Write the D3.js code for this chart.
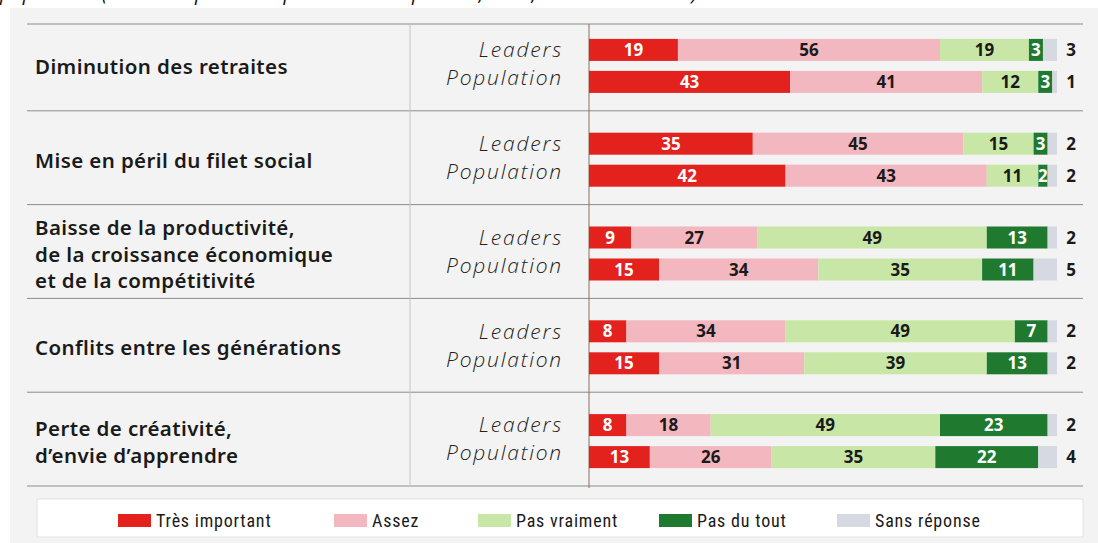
<!DOCTYPE html>
<html><head><meta charset="utf-8">
<script src="https://cdn.jsdelivr.net/npm/d3@7"></script>
<style>
html,body{margin:0;padding:0;background:#fff;}
svg{display:block;}
</style></head>
<body>
<svg id="chart" width="1098" height="543"></svg>
<script>
// ---- data ----
const categories = [
  ["Diminution des retraites"],
  ["Mise en péril du filet social"],
  ["Baisse de la productivité,", "de la croissance économique", "et de la compétitivité"],
  ["Conflits entre les générations"],
  ["Perte de créativité,", "d’envie d’apprendre"]
];
const groups = ["Leaders", "Population"];
const responses = ["Très important", "Assez", "Pas vraiment", "Pas du tout", "Sans réponse"];
const leadersValues = [
  [19, 56, 19, 3, 3],
  [35, 45, 15, 3, 2],
  [9, 27, 49, 13, 2],
  [8, 34, 49, 7, 2],
  [8, 18, 49, 23, 2]
];
const populationValues = [
  [43, 41, 12, 3, 1],
  [42, 43, 11, 2, 2],
  [15, 34, 35, 11, 5],
  [15, 31, 39, 13, 2],
  [13, 26, 35, 22, 4]
];
const colors = ["#e3211d", "#f3b7c0", "#c8e6a6", "#1f7a30", "#d6d9e1"];
const labelColors = ["#ffffff", "#1a1a1a", "#1a1a1a", "#ffffff", "#1a1a1a"];
const caption = "population (de très important à pas du tout important, en %, arrondis à l’unité)";

// ---- drawing ----
const svg = d3.select("#chart");
svg.append("rect").attr("x", 10).attr("y", 8).attr("width", 1088).attr("height", 535).attr("fill", "#f3f3f3");

svg.append("text").attr("x", 0).attr("y", 0)
  .attr("font-family", "Open Sans, sans-serif").attr("font-style", "italic")
  .attr("font-size", 20).attr("fill", "#111").text(caption);

const y = d3.scaleBand().domain(d3.range(categories.length)).range([17, 486]);
const sub = d3.scaleBand().domain(groups).range([-25, 29]).paddingInner(0.3125);
const x = d3.scaleLinear().domain([0, 100]).range([589, 1057]);
const color = d3.scaleOrdinal().domain(responses).range(colors);

// separators
const lineYs = [24].concat(d3.range(1, categories.length + 1).map(i => y(i - 1) + y.bandwidth()));
svg.append("g").selectAll("line").data(lineYs).join("line")
  .attr("x1", 27).attr("x2", 1083).attr("y1", d => d).attr("y2", d => d)
  .attr("stroke", "#8c8c8c").attr("stroke-width", 1);
svg.append("line").attr("x1", 410).attr("x2", 410).attr("y1", 24).attr("y2", 486)
  .attr("stroke", "#c4c4c4").attr("stroke-width", 1);
svg.append("line").attr("x1", x(0)).attr("x2", x(0)).attr("y1", 24).attr("y2", 488)
  .attr("stroke", "#8a7358").attr("stroke-width", 1);

// category labels
categories.forEach((lines, i) => {
  const cy = y(i) + y.bandwidth() / 2 + 3;
  const lh = 26.5;
  const t = svg.append("text").attr("font-family", "Noto Sans, sans-serif")
    .attr("font-weight", 600).attr("font-size", 20.5).attr("letter-spacing", 0.4).attr("fill", "#1a1a1a");
  lines.forEach((ln, k) => {
    t.append("tspan").attr("x", 35)
      .attr("y", cy + (k - (lines.length - 1) / 2) * lh)
      .attr("dy", "0.35em").text(ln);
  });
});

// rows
const rows = [];
categories.forEach((c, i) => {
  [leadersValues[i], populationValues[i]].forEach((vals, gi) => {
    let acc = 0;
    const segs = vals.map((v, k) => { const s = {v, k, x0: acc, x1: acc + v}; acc += v; return s; });
    rows.push({i, g: groups[gi], segs});
  });
});

const rowG = svg.append("g").selectAll("g").data(rows).join("g")
  .attr("transform", d => `translate(0,${y(d.i) + y.bandwidth() / 2 + sub(d.g)})`);

rowG.append("text")
  .attr("x", 563).attr("y", d => sub.bandwidth() / 2 + (d.g === "Population" ? -4 : 0))
  .attr("dy", "0.35em").attr("text-anchor", "end")
  .attr("font-family", "Open Sans, sans-serif").attr("font-style", "italic").attr("font-weight", 300)
  .attr("font-size", 21).attr("letter-spacing", 1.8).attr("fill", "#222").text(d => d.g);

rowG.selectAll("rect").data(d => d.segs).join("rect")
  .attr("x", s => x(s.x0)).attr("width", s => x(s.x1) - x(s.x0))
  .attr("y", 0).attr("height", sub.bandwidth())
  .attr("fill", s => color(responses[s.k]));

rowG.selectAll("text.val").data(d => d.segs).join("text").attr("class", "val")
  .attr("x", s => s.k === 4 ? 1071 : (x(s.x0) + x(s.x1)) / 2)
  .attr("y", sub.bandwidth() / 2).attr("dy", "0.36em").attr("text-anchor", "middle")
  .attr("font-family", "Open Sans, sans-serif").attr("font-weight", 700).attr("font-size", 17)
  .attr("fill", s => s.k === 4 ? "#1a1a1a" : labelColors[s.k])
  .text(s => s.v);

// legend
svg.append("rect").attr("x", 37).attr("y", 499).attr("width", 1046).attr("height", 38)
  .attr("fill", "#ffffff").attr("stroke", "#e2e2e2");
const legendX = [118, 334, 478, 659, 837];
const lg = svg.append("g").selectAll("g").data(responses).join("g")
  .attr("transform", (d, i) => `translate(${legendX[i]},514)`);
lg.append("rect").attr("width", 33).attr("height", 13).attr("fill", d => color(d));
lg.append("text").attr("x", 38).attr("y", 6.5).attr("dy", "0.35em")
  .attr("font-family", "Liberation Sans Narrow, Roboto Condensed, sans-serif")
  .attr("font-size", 18).attr("letter-spacing", 0.8).attr("fill", "#1a1a1a").text(d => d);
</script>
</body></html>
